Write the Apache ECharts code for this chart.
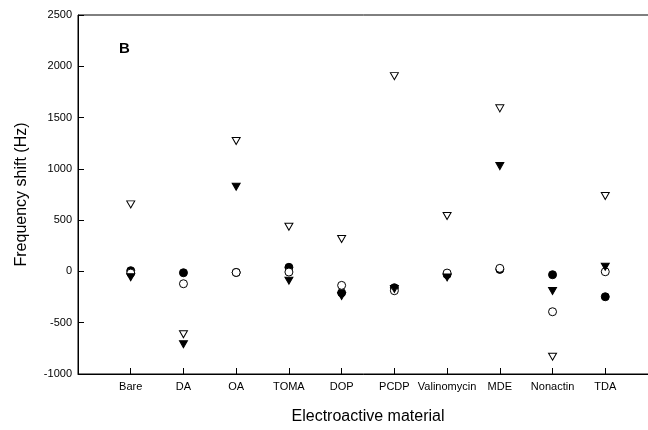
<!DOCTYPE html>
<html>
<head>
<meta charset="utf-8">
<script src="https://cdn.jsdelivr.net/npm/echarts@6/dist/echarts.min.js"></script>
<style>
  html, body { margin: 0; padding: 0; background: #fff; }
  #chart { width: 648px; height: 430px; }
</style>
</head>
<body>
<div id="chart"></div>
<script>
// materials on the x axis
const categories = ["Bare", "DA", "OA", "TOMA", "DOP", "PCDP", "Valinomycin", "MDE", "Nonactin", "TDA"]
// frequency shifts (Hz), one value per material
const filledCircle = [7, -13, -10, 40, -208, -159, -30, 20, -32, -247]
const openCircle = [-16, -120, -10, -6, -136, -188, -16, 30, -393, -3]
const filledTriangle = [-57, -710, 826, -90, -240, -170, -58, 1027, -191, 46]
const openTriangle = [654, -613, 1271, 436, 316, 1904, 540, 1590, -831, 735]
const yTicks = [-1000, -500, 0, 500, 1000, 1500, 2000, 2500]

const font = "Liberation Sans, Arial, sans-serif"

function toPoints(values) {
  return values.map((v, i) => [i + 1, v])
}

function makeSeries(name, values, symbol, filled, size) {
  return {
    name: name,
    type: "scatter",
    data: toPoints(values),
    symbol: symbol,
    symbolSize: size,
    symbolRotate: symbol === "triangle" ? 180 : 0,
    itemStyle: {
      color: filled ? "#000" : "#fff",
      borderColor: "#000",
      borderWidth: 1,
      opacity: 1
    },
    emphasis: { disabled: true }
  }
}

const chart = echarts.init(document.getElementById("chart"))
chart.setOption({
  animation: false,
  backgroundColor: "#fff",
  textStyle: { fontFamily: font, color: "#000" },
  grid: {
    left: 78, top: 15, right: -10, bottom: 56,
    outerBoundsMode: "none",
    containLabel: false,
    show: true, borderColor: "#000", borderWidth: 1
  },
  xAxis: {
    type: "value",
    min: 0,
    max: categories.length + 1,
    interval: 1,
    name: "Electroactive material",
    nameLocation: "middle",
    nameGap: 35,
    nameTextStyle: { fontSize: 16, color: "#000", fontFamily: font },
    axisLine: { onZero: false, lineStyle: { color: "#000", width: 1 } },
    axisTick: { inside: true, length: 6, lineStyle: { color: "#000" } },
    axisLabel: {
      fontSize: 11,
      color: "#000",
      fontFamily: font,
      margin: 7,
      formatter: (v) => categories[v - 1] || ""
    },
    splitLine: { show: false }
  },
  yAxis: {
    type: "value",
    min: yTicks[0],
    max: yTicks[yTicks.length - 1],
    interval: 500,
    name: "Frequency shift (Hz)",
    nameLocation: "middle",
    nameGap: 48,
    nameTextStyle: { fontSize: 16, color: "#000", fontFamily: font },
    axisLine: { show: true, onZero: false, lineStyle: { color: "#000", width: 1 } },
    axisTick: { show: true, inside: true, length: 6, lineStyle: { color: "#000" } },
    axisLabel: { fontSize: 11, color: "#000", fontFamily: font, margin: 6, formatter: (v) => String(v) },
    splitLine: { show: false }
  },
  graphic: [{
    type: "text",
    left: 119,
    top: 41,
    style: { text: "B", font: "bold 15px " + font, fill: "#000" }
  }],
  series: [
    makeSeries("filled circle", filledCircle, "circle", true, 8),
    makeSeries("open circle", openCircle, "circle", false, 8),
    makeSeries("filled triangle", filledTriangle, "triangle", true, [8, 7]),
    makeSeries("open triangle", openTriangle, "triangle", false, [8, 7])
  ]
})
</script>
</body>
</html>
